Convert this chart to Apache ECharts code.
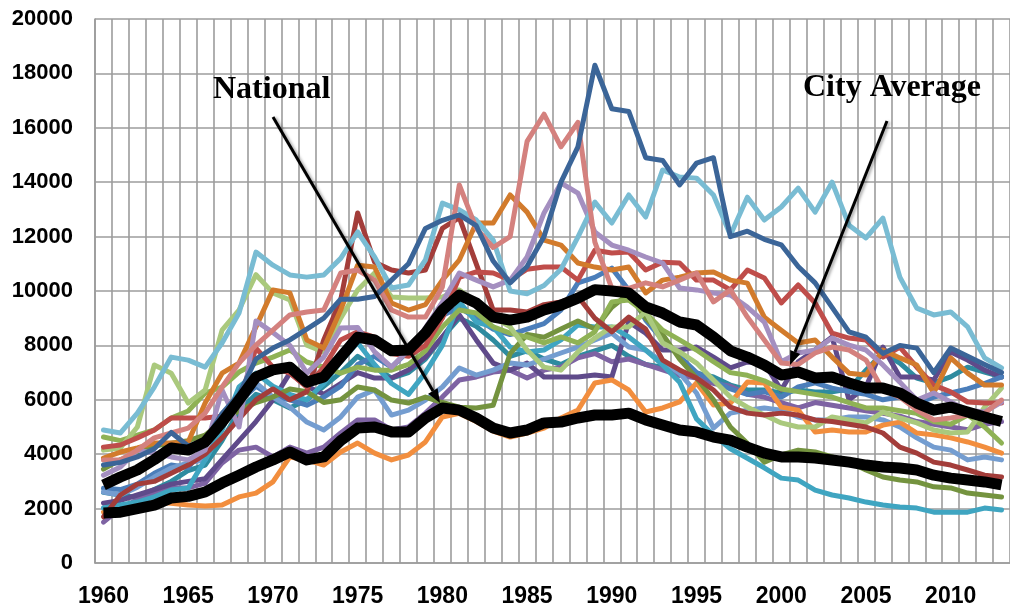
<!DOCTYPE html>
<html>
<head>
<meta charset="utf-8">
<script src="https://cdn.jsdelivr.net/npm/echarts/dist/echarts.min.js"></script>
<style>
  html, body { margin: 0; padding: 0; background: #fff; }
  #chart { width: 1010px; height: 616px; }
</style>
</head>
<body>
<div id="chart"></div>
<script>
// years 1960..2013
const years = []
for (let y = 1960; y <= 2013; y++) years.push(String(y))

// rows: 1960s, 1970s, 1980s, 1990s, 2000s, 2010-2013
const cityAverage = [
  2870, 3160, 3420, 3800, 4230, 4150, 4450, 5180, 5990, 6840,
  7100, 7200, 6650, 6840, 7570, 8300, 8200, 7800, 7830, 8450,
  9300, 9850, 9560, 9040, 8930, 9040, 9300, 9480, 9740, 10050,
  10000, 9930, 9410, 9190, 8860, 8750, 8310, 7800, 7570, 7280,
  6910, 7020, 6800, 6840, 6620, 6430, 6430, 6250, 5880, 5620,
  5730, 5550, 5370, 5200,
]
const national = [
  1840, 1870, 2000, 2130, 2390, 2450, 2610, 2940, 3230, 3530,
  3790, 4080, 3790, 3900, 4500, 4960, 5000, 4820, 4820, 5330,
  5700, 5620, 5330, 4960, 4780, 4890, 5150, 5180, 5330, 5440,
  5440, 5510, 5260, 5070, 4890, 4820, 4630, 4520, 4260, 4040,
  3900, 3900, 3860, 3790, 3710, 3600, 3530, 3490, 3420, 3230,
  3120, 3050, 2980, 2870,
]

const cityDarkBlue = [
  3600, 3700, 3900, 4200, 4800, 4300, 4500, 5500, 6200, 7500,
  7900, 8200, 8600, 9000, 9700, 9700, 9800, 10400, 11000, 12300,
  12600, 12800, 12400, 11100, 10300, 10900, 12000, 14000, 15300, 18300,
  16700, 16600, 14900, 14800, 13900, 14700, 14900, 12000, 12200, 11900,
  11700, 10900, 10300, 9400, 8500, 8300, 7700, 8000, 7900, 7000,
  7900, 7600, 7300, 7000,
]
const cityPink = [
  3790, 3790, 4150, 4600, 4780, 4960, 5510, 6470, 7350, 8010,
  8560, 9120, 9230, 9300, 10660, 10770, 10400, 9300, 9040, 9040,
  10150, 13900, 12300, 11600, 12000, 15500, 16500, 15300, 16200, 11800,
  10100, 10100, 10300, 10150, 10400, 10660, 9600, 10040, 9040, 8200,
  7350, 7300, 7720, 7940, 7830, 7460, 6360, 6100, 5620, 5260,
  5330, 5440, 5510, 5990,
]
const cityLightAqua = [
  4890, 4780, 5510, 6470, 7570, 7460, 7200, 8090, 9190, 11430,
  10950, 10590, 10510, 10590, 11200, 12170, 11250, 10110, 10220, 11140,
  13230, 12980, 12610, 11870, 10000, 9900, 10200, 10800, 11980, 13270,
  12500, 13530, 12720, 14450, 14190, 14150, 13530, 12060, 13450, 12610,
  13090, 13780, 12900, 14000, 12420, 11950, 12680, 10510, 9370, 9120,
  9230, 8680, 7540, 7170,
]
const cityLightPurple = [
  3230, 3530, 4150, 4040, 3900, 3790, 4150, 6360, 5000, 8900,
  8470, 8000, 6980, 7570, 8640, 8660, 7760, 7200, 7830, 8640,
  9590, 10660, 10400, 10150, 10400, 11250, 12870, 13970, 13600, 12170,
  11690, 11500, 11250, 11030, 10110, 10040, 9930, 9850, 9410, 8860,
  7400, 7720, 7830, 8270, 8010, 7830, 7280, 6650, 5990, 6250,
  5920, 5620, 5550, 5920,
]
const cityDarkOrange = [
  3860, 4080, 4230, 4410, 4410, 4450, 5880, 6980, 7350, 8680,
  10040, 9930, 8200, 7900, 9300, 10950, 10880, 9560, 9300, 9500,
  10400, 11140, 12500, 12500, 13530, 12900, 11870, 11690, 11030, 10880,
  10770, 10880, 9930, 10400, 10510, 10660, 10700, 10400, 10290, 9040,
  8560, 8090, 8200, 7570, 6980, 6910, 7830, 7540, 7280, 6250,
  7540, 6980, 6540, 6540,
]
const cityRed = [
  4260, 4340, 4600, 4890, 5330, 5330, 5330, 5400, 5900, 7900,
  7200, 6980, 6470, 7200, 8200, 8500, 8300, 7700, 7600, 8000,
  9000, 10500, 10700, 10660, 10400, 10800, 10880, 10880, 10400, 11500,
  11400, 11430, 10770, 11060, 11030, 10400, 10400, 10040, 10770, 10480,
  9560, 10220, 9560, 8450, 8270, 8200, 7570, 7940, 7200, 6540,
  6290, 5920, 5880, 5880,
]
const cityDarkRed = [
  1700, 2500, 2900, 3000, 3300, 3600, 4000, 4600, 5300, 6000,
  6400, 6000, 6300, 8200, 9670, 12870, 11060, 10770, 10660, 10770,
  12300, 12700, 11000, 9300, 9300, 9230, 9500, 9600, 9800, 9000,
  8500, 9040, 8600, 7460, 7100, 6800, 6360, 5730, 5510, 5440,
  5510, 5440, 5260, 5200, 5100, 5000, 4780, 4260, 4040, 3710,
  3600, 3420, 3230, 3160,
]
const cityLightGreen = [
  4150, 4230, 5000, 7280, 6980, 5880, 6360, 8560, 9300, 10600,
  9930, 9670, 8010, 7760, 9000, 10040, 10660, 9780, 9740, 9740,
  9780, 10040, 9560, 9040, 8680, 7830, 7200, 7090, 7760, 8270,
  8680, 8680, 9230, 8090, 7760, 7350, 6730, 6100, 5730, 5440,
  5150, 5000, 5000, 5370, 5260, 5150, 5550, 5330, 5150, 4890,
  4780, 4820, 5730, 6430,
]
const cityGreen = [
  4630, 4500, 4700, 4890, 5330, 5590, 6250, 6470, 7020, 7350,
  7570, 7830, 7390, 7200, 6980, 7200, 7090, 7090, 7300, 7800,
  8680, 9300, 9190, 8680, 8450, 8310, 8090, 8310, 8090, 8500,
  9600, 9670, 9190, 8560, 8200, 7830, 7400, 7000, 6900, 6700,
  6400, 6300, 6200, 6100, 5900, 5700, 5700, 5600, 5500, 5200,
  5100, 5440, 5000, 4410,
]
const cityDarkGreen = [
  3450, 3800, 4000, 4300, 4400, 4500, 4700, 5200, 5600, 5900,
  6100, 6400, 6300, 5900, 6000, 6470, 6360, 5990, 5880, 6100,
  5900, 5730, 5700, 5800, 7700, 8400, 8300, 8600, 8900, 8600,
  9400, 9900, 9000, 8400, 7500, 6800, 6000, 5000, 4400, 3710,
  3970, 4150, 4080, 3900, 3710, 3420, 3160, 3050, 2980, 2800,
  2760, 2570, 2500, 2430,
]
const cityAqua = [
  2020, 2130, 2240, 2430, 2680, 2760, 3790, 4890, 6470, 6980,
  6500, 6200, 6000, 6600, 7400, 8100, 7300, 6600, 6200, 7000,
  8000, 9600, 8860, 8680, 7940, 7760, 7830, 8200, 8750, 8680,
  8680, 8310, 7830, 7280, 6650, 5300, 4700, 4200, 3850, 3500,
  3120, 3050, 2680, 2500, 2390, 2240, 2130, 2060, 2020, 1870,
  1870, 1870, 2020, 1950,
]
const cityOrange = [
  1870, 1900, 2000, 2240, 2200, 2130, 2100, 2130, 2430, 2570,
  2980, 3900, 3790, 3600, 4080, 4410, 4040, 3790, 3970, 4450,
  5370, 5500, 5200, 4850, 4630, 4780, 4960, 5330, 5620, 6620,
  6730, 6360, 5550, 5700, 5920, 6620, 5810, 5880, 6650, 6620,
  5730, 5620, 4820, 4890, 4820, 4820, 5070, 5180, 4780, 4710,
  4600, 4450, 4260, 4040,
]
const cityLightBlue = [
  2610, 2500, 2790, 3160, 3490, 3680, 3790, 5000, 6000, 6620,
  6100, 5730, 5180, 4890, 5370, 6100, 6360, 5440, 5620, 5990,
  6470, 7170, 6910, 7090, 7350, 7280, 7500, 7720, 7940, 8200,
  8450, 7940, 7830, 7390, 6980, 6250, 4960, 5510, 5620, 5700,
  5620, 5370, 5260, 5260, 5370, 5370, 5260, 5000, 4600, 4260,
  4150, 3790, 3900, 3790,
]
const cityBlue = [
  2750, 2700, 2900, 3300, 3600, 3500, 4300, 5100, 5900, 6500,
  6100, 6000, 5800, 6100, 6500, 7300, 7600, 7200, 7800, 8500,
  9100, 9400, 9000, 8600, 8400, 8600, 8800, 9300, 10300, 10500,
  10840, 10040, 8930, 8200, 7600, 7000, 6700, 6400, 6200, 6300,
  6100, 6470, 6620, 6430, 6300, 6200, 6000, 6100, 5880, 6100,
  6250, 6400, 6600, 6840,
]
const cityPurple = [
  1500, 2020, 2320, 2570, 2760, 2760, 2940, 3680, 4150, 4260,
  3900, 4260, 4040, 4260, 4780, 5260, 5260, 4890, 5000, 5510,
  6100, 6730, 6840, 7020, 7090, 6800, 7090, 7200, 7540, 7700,
  7400, 7500, 7300, 7100, 6900, 6800, 6600, 6500, 6200, 6100,
  5900, 5700, 5900, 5800, 5700, 5600, 5500, 5400, 5200, 5100,
  5000, 4900, 5100, 5200,
]
const cityDarkPurple = [
  2200, 2300, 2500, 2700, 2900, 3000, 3100, 3800, 4500, 5200,
  5990, 6980, 6500, 6200, 6600, 7000, 6800, 6800, 7100, 7570,
  8310, 9120, 8200, 7350, 7090, 7350, 6840, 6840, 6840, 6910,
  6840, 8860, 8450, 7830, 7830, 7940, 7570, 7170, 7390, 7350,
  6360, 7400, 7830, 8310, 6000, 6470, 7940, 6840, 6840, 6730,
  7760, 7460, 7090, 6840,
]
const cityTeal = [
  2600, 2500, 2400, 2700, 3000, 3400, 3600, 4500, 5600, 6200,
  6000, 5700, 6000, 6500, 7000, 7600, 7200, 6800, 7000, 7500,
  8300, 9000, 8700, 8200, 7600, 7800, 7500, 7300, 7600, 7800,
  8000, 7600, 7300, 7200, 6900, 6980, 6840, 6540, 6360, 6360,
  6250, 6360, 6290, 6290, 6400, 7090, 7720, 7350, 6800, 6620,
  6840, 7200, 7020, 6840,
]

const cityLines = [
  ['Teal', cityTeal, '#2E8B9F'],
  ['Purple', cityPurple, '#7E63A3'],
  ['Dark purple', cityDarkPurple, '#5F4A8A'],
  ['Blue', cityBlue, '#4B7EBA'],
  ['Light blue', cityLightBlue, '#749DD0'],
  ['Orange', cityOrange, '#F28E3E'],
  ['Aqua', cityAqua, '#3FA5C1'],
  ['Dark green', cityDarkGreen, '#74933F'],
  ['Green', cityGreen, '#8FB255'],
  ['Light green', cityLightGreen, '#AAC97D'],
  ['Dark red', cityDarkRed, '#A33D3A'],
  ['Red', cityRed, '#BF4D4A'],
  ['Dark orange', cityDarkOrange, '#D27B2C'],
  ['Light purple', cityLightPurple, '#A48FC0'],
  ['Light aqua', cityLightAqua, '#79BCD3'],
  ['Pink', cityPink, '#D4817E'],
  ['Dark blue', cityDarkBlue, '#3B6598'],
]

const chart = echarts.init(document.getElementById('chart'))

const series = cityLines.map(([name, data, color]) => ({
  name,
  type: 'line',
  data,
  symbol: 'none',
  lineStyle: { color, width: 5, cap: 'round', join: 'round' },
  z: 2,
}))
series.push(
  {
    name: 'National', type: 'line', data: national, symbol: 'none', z: 5,
    lineStyle: { color: '#000', width: 11, join: 'round' },
  },
  {
    name: 'City Average', type: 'line', data: cityAverage, symbol: 'none', z: 5,
    lineStyle: { color: '#000', width: 11, join: 'round' },
  },
)

const labelFont = { color: '#000', fontWeight: 'bold', fontFamily: 'Liberation Sans' }
const gridLine = { lineStyle: { color: '#9c9c9c', width: 1.6 } }
const arrowStyle = { stroke: '#000', lineWidth: 3, shadowBlur: 3, shadowColor: 'rgba(0,0,0,0.35)', shadowOffsetX: 2, shadowOffsetY: 1 }

chart.setOption({
  animation: false,
  backgroundColor: '#fff',
  grid: { left: 95, top: 19, right: -8, bottom: 53 },
  xAxis: {
    type: 'category',
    data: years,
    boundaryGap: true,
    axisLine: { show: true, lineStyle: { color: '#9c9c9c', width: 1.6 } },
    axisTick: { show: false, interval: 0 },
    axisLabel: { ...labelFont, fontSize: 23, interval: 4, margin: 22 },
    splitLine: { show: true, interval: 0, ...gridLine },
  },
  yAxis: {
    type: 'value',
    min: 0,
    max: 20000,
    interval: 2000,
    axisLine: { show: true, lineStyle: { color: '#9c9c9c', width: 1.6 } },
    axisTick: { show: false },
    axisLabel: { ...labelFont, fontSize: 22, margin: 22, formatter: v => String(v) },
    splitLine: { show: true, ...gridLine },
  },
  series,
  graphic: [
    {
      type: 'text', left: 213, top: 74, z: 100,
      style: { text: 'National', fill: '#000', font: 'bold 32px "Liberation Serif"' },
    },
    {
      type: 'text', left: 803, top: 72, z: 100,
      style: { text: 'City Average', fill: '#000', font: 'bold 32px "Liberation Serif"' },
    },
    {
      type: 'line', z: 100,
      shape: { x1: 273, y1: 117, x2: 433, y2: 391 },
      style: arrowStyle,
    },
    {
      type: 'polygon', z: 100,
      shape: { points: [[440, 403], [428.2, 393.8], [437.6, 388.2]] },
      style: { fill: '#000' },
    },
    {
      type: 'line', z: 100,
      shape: { x1: 887, y1: 121, x2: 795, y2: 352 },
      style: arrowStyle,
    },
    {
      type: 'polygon', z: 100,
      shape: { points: [[790, 365], [790.2, 350], [800.2, 354]] },
      style: { fill: '#000' },
    },
  ],
})
</script>
</body>
</html>
